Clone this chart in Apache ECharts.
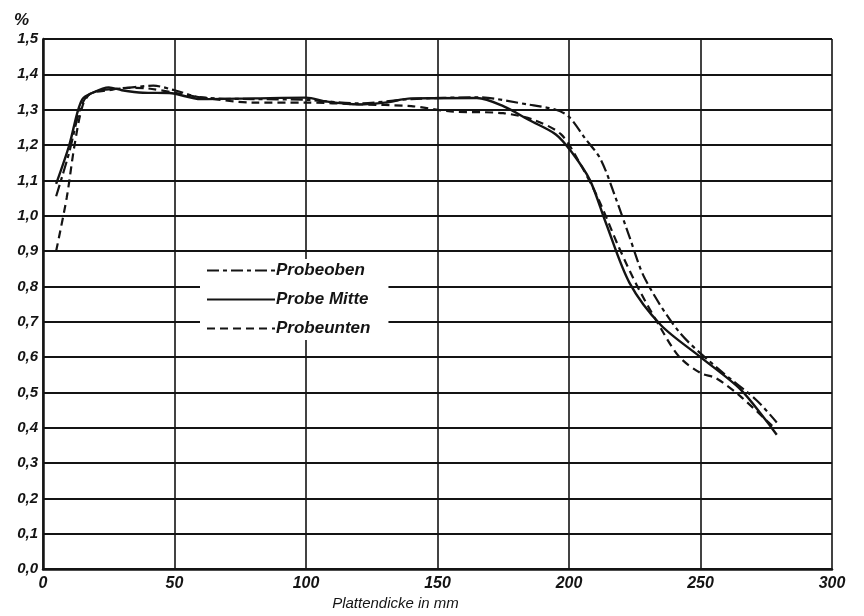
<!DOCTYPE html>
<html>
<head>
<meta charset="utf-8">
<script src="https://cdn.jsdelivr.net/npm/echarts@6/dist/echarts.min.js"></script>
<style>
html,body{margin:0;padding:0;background:#fff;}
#chart{width:864px;height:616px;}
</style>
</head>
<body>
<div id="chart"></div>
<script>
// Plattendicke (mm) / Kohlenstoffgehalt (%)
var obenX  = [5, 10, 14, 17, 22, 30, 42, 50, 60, 80, 100, 120, 140, 165, 185, 195, 200, 206, 212, 218, 223, 229, 242, 257, 271, 279];
var obenY  = [1.055, 1.18, 1.30, 1.34, 1.355, 1.36, 1.368, 1.355, 1.335, 1.33, 1.328, 1.318, 1.33, 1.335, 1.314, 1.30, 1.28, 1.22, 1.16, 1.045, 0.94, 0.82, 0.67, 0.565, 0.48, 0.415];
var mitteX = [5, 10, 13, 15, 18, 25, 30, 38, 48, 60, 80, 100, 108, 120, 130, 140, 165, 175, 185, 195, 201, 208, 214, 223, 235, 250, 265, 275, 279];
var mitteY = [1.09, 1.20, 1.29, 1.33, 1.345, 1.363, 1.355, 1.348, 1.347, 1.33, 1.332, 1.334, 1.323, 1.315, 1.32, 1.332, 1.333, 1.31, 1.27, 1.23, 1.18, 1.10, 0.98, 0.81, 0.69, 0.60, 0.51, 0.42, 0.38];
var untenX = [5, 9, 12, 15, 18, 25, 32, 40, 50, 60, 80, 100, 120, 140, 155, 175, 187, 197, 204, 211, 219, 226, 235, 242, 250, 256, 265, 278];
var untenY = [0.90, 1.05, 1.20, 1.31, 1.345, 1.355, 1.362, 1.36, 1.348, 1.335, 1.32, 1.32, 1.315, 1.31, 1.295, 1.29, 1.27, 1.23, 1.15, 1.05, 0.91, 0.80, 0.68, 0.60, 0.555, 0.54, 0.49, 0.40];

var names = ['Probeoben', 'Probe Mitte', 'Probeunten'];

function pairs(xs, ys) {
	var res = [];
	for (var i = 0; i < xs.length; i++) res.push([xs[i], ys[i]]);
	return res;
}
function komma(v) {
	return v.toFixed(1).replace('.', ',');
}

var ink = '#141414';
var fontFam = '"Liberation Sans", "DejaVu Sans", sans-serif';

var chart = echarts.init(document.getElementById('chart'));
var option = {
	backgroundColor: '#fff',
	animation: false,
	grid: { left: 43, right: 32, top: 39, bottom: 46 },
	legend: {
		data: names,
		orient: 'vertical',
		left: 200,
		top: 259,
		itemWidth: 68,
		itemHeight: 14,
		itemGap: 12,
		backgroundColor: '#fff',
		padding: [3, 18, 3, 6],
		itemStyle: { opacity: 0 },
		textStyle: { color: ink, fontSize: 17, fontStyle: 'italic', fontWeight: 'bold', fontFamily: fontFam, padding: [0, 0, 0, -4] }
	},
	xAxis: {
		type: 'value',
		min: 0, max: 300, interval: 50,
		name: 'Plattendicke in mm',
		nameLocation: 'middle',
		nameGap: 26,
		nameTextStyle: { color: ink, fontSize: 15, fontStyle: 'italic', fontFamily: fontFam, padding: [0, 84, 0, 0] },
		axisLine: { show: true, lineStyle: { color: ink, width: 2.5 } },
		axisTick: { show: false },
		axisLabel: { color: ink, fontSize: 16, fontStyle: 'italic', fontWeight: 'bold', fontFamily: fontFam, margin: 6 },
		splitLine: { show: true, lineStyle: { color: ink, width: 1.6 } }
	},
	yAxis: {
		type: 'value',
		min: 0, max: 1.5, interval: 0.1,
		name: '%',
		nameGap: 10,
		nameTextStyle: { color: ink, fontSize: 17, fontStyle: 'italic', fontWeight: 'bold', fontFamily: fontFam, align: 'right', padding: [0, 14, 0, 0] },
		axisLine: { show: true, lineStyle: { color: ink, width: 2.5 } },
		axisTick: { show: false },
		axisLabel: { color: ink, fontSize: 15, fontStyle: 'italic', fontWeight: 'bold', fontFamily: fontFam, margin: 5, formatter: komma },
		splitLine: { show: true, lineStyle: { color: ink, width: 1.8 } }
	},
	series: [{
		name: names[0],
		type: 'line',
		smooth: 0.3,
		showSymbol: false,
		symbol: 'none',
		data: pairs(obenX, obenY),
		lineStyle: { color: ink, width: 2.2, type: [12, 4, 4, 4] },
		itemStyle: { color: ink }
	}, {
		name: names[1],
		type: 'line',
		smooth: 0.3,
		showSymbol: false,
		symbol: 'none',
		data: pairs(mitteX, mitteY),
		lineStyle: { color: ink, width: 2.4, type: 'solid' },
		itemStyle: { color: ink }
	}, {
		name: names[2],
		type: 'line',
		smooth: 0.3,
		showSymbol: false,
		symbol: 'none',
		data: pairs(untenX, untenY),
		lineStyle: { color: ink, width: 2.2, type: [8, 5] },
		itemStyle: { color: ink }
	}]
};
chart.setOption(option);
window.onresize = chart.resize;
</script>
</body>
</html>
